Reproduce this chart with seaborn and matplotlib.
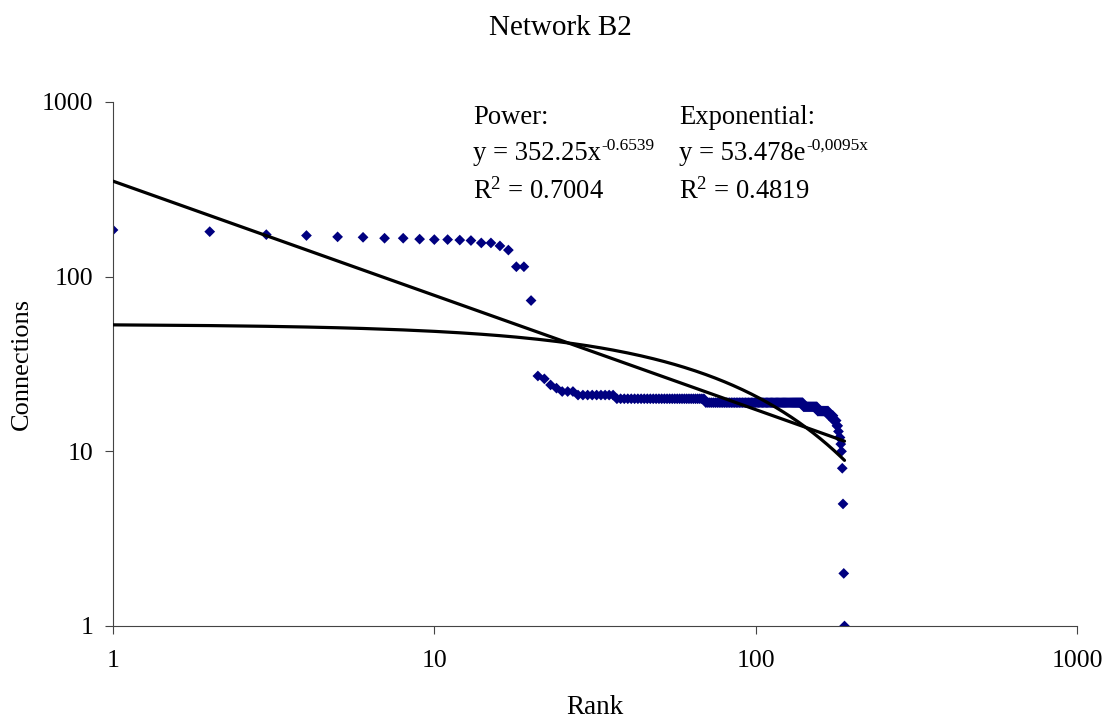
import numpy as np
import pandas as pd
import matplotlib
matplotlib.use("Agg")
import matplotlib.pyplot as plt
import seaborn as sns

# connections per node, sorted by rank
connections = [
    185, 181, 174, 172, 169, 168, 166, 166, 164, 163,
    163, 162, 161, 156, 156, 150, 142, 114, 114, 73,
    27, 26, 24, 23, 22, 22, 22, 21, 21, 21,
    21, 21, 21, 21, 21, 21, 20, 20, 20, 20,
    20, 20, 20, 20, 20, 20, 20, 20, 20, 20,
    20, 20, 20, 20, 20, 20, 20, 20, 20, 20,
    20, 20, 20, 20, 20, 20, 20, 20, 20, 19,
    19, 19, 19, 19, 19, 19, 19, 19, 19, 19,
    19, 19, 19, 19, 19, 19, 19, 19, 19, 19,
    19, 19, 19, 19, 19, 19, 19, 19, 19, 19,
    19, 19, 19, 19, 19, 19, 19, 19, 19, 19,
    19, 19, 19, 19, 19, 19, 19, 19, 19, 19,
    19, 19, 19, 19, 19, 19, 19, 19, 19, 19,
    19, 19, 19, 19, 19, 19, 19, 19, 19, 19,
    18, 18, 18, 18, 18, 18, 18, 18, 18, 18,
    18, 18, 18, 18, 18, 17, 17, 17, 17, 17,
    17, 17, 17, 17, 17, 17, 17, 17, 16, 16,
    16, 16, 16, 16, 15, 15, 15, 15, 14, 14,
    13, 12, 12, 11, 10, 8, 5, 2, 1,
]
ranks = list(range(1, len(connections) + 1))

# trendline coefficients as printed on the chart
power_a, power_b = 352.25, -0.6539
expo_a, expo_b = 53.478, -0.0095
power_r2, expo_r2 = 0.7004, 0.4819

W, H = 1113, 727

sns.set_theme(style="ticks")
plt.rcParams["font.family"] = ["Liberation Serif", "DejaVu Serif"]
plt.rcParams["mathtext.fontset"] = "custom"
plt.rcParams["mathtext.rm"] = "Liberation Serif"
plt.rcParams["mathtext.it"] = "Liberation Serif"
plt.rcParams["text.color"] = "black"
plt.rcParams["xtick.labelcolor"] = "black"
plt.rcParams["ytick.labelcolor"] = "black"

df = pd.DataFrame({"Rank": ranks, "Connections": connections})
x = np.array(ranks, dtype=float)
trend = pd.DataFrame({
    "Rank": x,
    "power": power_a * x ** power_b,
    "expo": expo_a * np.exp(expo_b * x),
})

fig = plt.figure(figsize=(W / 100, H / 100), dpi=100)
ax = fig.add_axes([113 / W, 1 - 626 / H, (1077 - 113) / W, (626 - 102) / H])

sns.scatterplot(data=df, x="Rank", y="Connections", ax=ax, marker="D",
                color="#000080", s=30, edgecolor="none", zorder=2)
sns.lineplot(data=trend, x="Rank", y="power", ax=ax, color="black",
             linewidth=2.3, zorder=3)
sns.lineplot(data=trend, x="Rank", y="expo", ax=ax, color="black",
             linewidth=2.3, zorder=3)

ax.set_xscale("log")
ax.set_yscale("log")
ax.set_xlim(1, 1000)
ax.set_ylim(1, 1000)
ticks = [1, 10, 100, 1000]
ax.set_xticks(ticks)
ax.set_yticks(ticks)
ax.set_xticklabels([str(t) for t in ticks])
ax.set_yticklabels([str(t) for t in ticks])
ax.minorticks_off()
ax.tick_params(axis="x", direction="out", length=6, width=0.8, color="#444444",
               labelsize=18.5, pad=11)
ax.tick_params(axis="y", direction="out", length=6, width=0.8, color="#444444",
               labelsize=18.5, pad=8)
for side in ["top", "right"]:
    ax.spines[side].set_visible(False)
for side in ["left", "bottom"]:
    ax.spines[side].set_color("#444444")
    ax.spines[side].set_linewidth(0.8)

ax.set_xlabel("")
ax.set_ylabel("")
fig.text(595 / W, 1 - 708 / H, "Rank", ha="center", va="center", fontsize=19.5)
fig.text(22 / W, 1 - 364 / H, "Connections", ha="center", va="center",
         rotation=90, fontsize=19)
fig.text(560 / W, 1 - 28 / H, "Network B2", ha="center", va="center", fontsize=21)

fs = 19.2
sup = 12.5


def equation(xp, base, exponent):
    # base text plus a raised exponent placed right after it
    t = fig.text(xp / W, 1 - 153 / H, base, ha="left", va="center", fontsize=fs)
    ax.annotate(exponent, xy=(1.0, 0.92), xycoords=t, xytext=(0.5, 3.5),
                textcoords="offset points", ha="left", va="top", fontsize=sup)


fig.text(473 / W, 1 - 118 / H, "Power:", ha="left", va="center", fontsize=fs)
equation(473, "y = %.2fx" % power_a, "%.4f" % power_b)
fig.text(473 / W, 1 - 191 / H, r"R$^{\mathregular{2}}$ = %.4f" % power_r2,
         ha="left", va="center", fontsize=fs)

fig.text(679 / W, 1 - 118 / H, "Exponential:", ha="left", va="center", fontsize=fs)
equation(679, "y = %.3fe" % expo_a, ("%.4fx" % expo_b).replace(".", ","))
fig.text(679 / W, 1 - 191 / H, r"R$^{\mathregular{2}}$ = %.4f" % expo_r2,
         ha="left", va="center", fontsize=fs)

fig.savefig("out.png", dpi=100, facecolor="white")
